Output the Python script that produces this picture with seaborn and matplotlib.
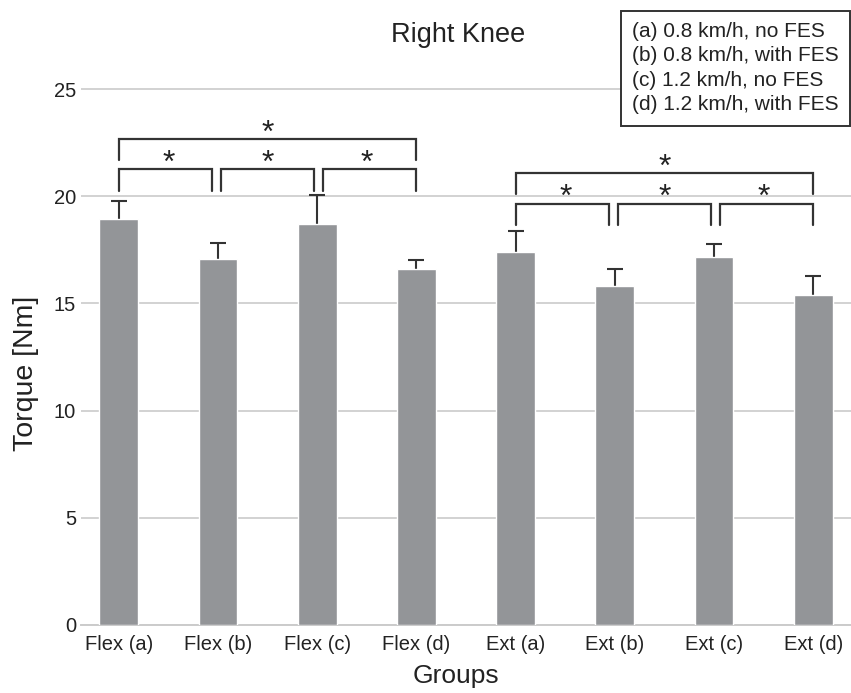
import numpy as np
import pandas as pd
import matplotlib
matplotlib.use("Agg")
import matplotlib.pyplot as plt
import seaborn as sns

# ── data ─────────────────────────────────────────────────────────────
groups = ["Flex (a)", "Flex (b)", "Flex (c)", "Flex (d)",
          "Ext (a)", "Ext (b)", "Ext (c)", "Ext (d)"]
torque_mean = [18.94, 17.07, 18.72, 16.60, 17.41, 15.83, 17.18, 15.39]
torque_sd = [0.84, 0.73, 1.35, 0.41, 0.98, 0.76, 0.60, 0.87]

# significant pairs inside each block of four (index within the block)
sig_pairs = [(0, 1), (1, 2), (2, 3), (0, 3)]
block_start = [0, 4]
# bracket heights (Nm): lower row / upper row for each block
bracket_low = [21.25, 19.65]
bracket_high = [22.67, 21.08]

legend_lines = ["(a) 0.8 km/h, no FES",
                "(b) 0.8 km/h, with FES",
                "(c) 1.2 km/h, no FES",
                "(d) 1.2 km/h, with FES"]

df = pd.DataFrame({"group": groups, "torque": torque_mean})

# ── style ────────────────────────────────────────────────────────────
sns.set_theme(style="whitegrid")
plt.rcParams["font.family"] = ["Liberation Sans", "DejaVu Sans"]
txt = "#222222"
dark = "#333333"

fig = plt.figure(figsize=(8.51, 6.93), dpi=100)
ax = fig.add_axes([81 / 851, 1 - 625 / 693, 770 / 851, 575 / 693])

sns.barplot(data=df, x="group", y="torque", color="#939598",
            saturation=1, width=0.39, errorbar=None, ax=ax, zorder=3)
# symmetric bars drawn behind the columns, so only the upper half shows
ax.errorbar(np.arange(len(groups)), torque_mean, yerr=torque_sd,
            fmt="none", ecolor=dark, elinewidth=1.5,
            capsize=5.5, capthick=1.5, zorder=2)

# significance brackets
leg = 0.99
gaps = {(0, 1): (0.0, 0.06), (1, 2): (0.03, 0.03),
        (2, 3): (0.06, 0.0), (0, 3): (0.0, 0.0)}
for b, start in enumerate(block_start):
    for i, j in sig_pairs:
        g0, g1 = gaps[(i, j)]
        x0, x1 = start + i + g0, start + j - g1
        y = bracket_high[b] if (i, j) == (0, 3) else bracket_low[b]
        ax.plot([x0, x0, x1, x1], [y - leg, y, y, y - leg],
                color=dark, lw=1.6, solid_joinstyle="miter", zorder=4)
        ax.text((2 * start + i + j) / 2, y - 0.45, "*",
                ha="center", va="bottom", fontsize=23, color=txt)

ax.set_xlim(-0.38, 7.38)
ax.set_ylim(0, 26.82)
ax.set_yticks([0, 5, 10, 15, 20, 25])
ax.grid(axis="x", visible=False)
ax.grid(axis="y", color="#cbcbcb", lw=1.2)
for s in ["left", "right", "top"]:
    ax.spines[s].set_visible(False)
ax.spines["bottom"].set_color("#cbcbcb")
ax.spines["bottom"].set_linewidth(1.4)
ax.tick_params(axis="x", length=0, pad=7, labelsize=14.5, labelcolor=txt)
ax.tick_params(axis="y", length=0, pad=3.5, labelsize=14.5, labelcolor=txt)

ax.set_xlabel("Groups", fontsize=19, color=txt)
ax.xaxis.set_label_coords((456 - 81) / 770, -(676 - 625) / 575)
ax.xaxis.label.set_va("center")
ax.set_ylabel("Torque [Nm]", fontsize=20.5, color=txt)
ax.yaxis.set_label_coords((26 - 81) / 770, (625 - 373) / 575)
ax.yaxis.label.set_va("center")

ax.set_title("Right Knee", fontsize=19.5, color=txt,
             x=(458 - 81) / 770, pad=6)

fig.text(632 / 851, 1 - 22 / 693, "\n".join(legend_lines),
         ha="left", va="top", fontsize=15, color=txt, linespacing=1.36,
         bbox=dict(boxstyle="square,pad=0.55", fc="white",
                   ec=dark, lw=1.4))

fig.savefig("out.png", dpi=100)
